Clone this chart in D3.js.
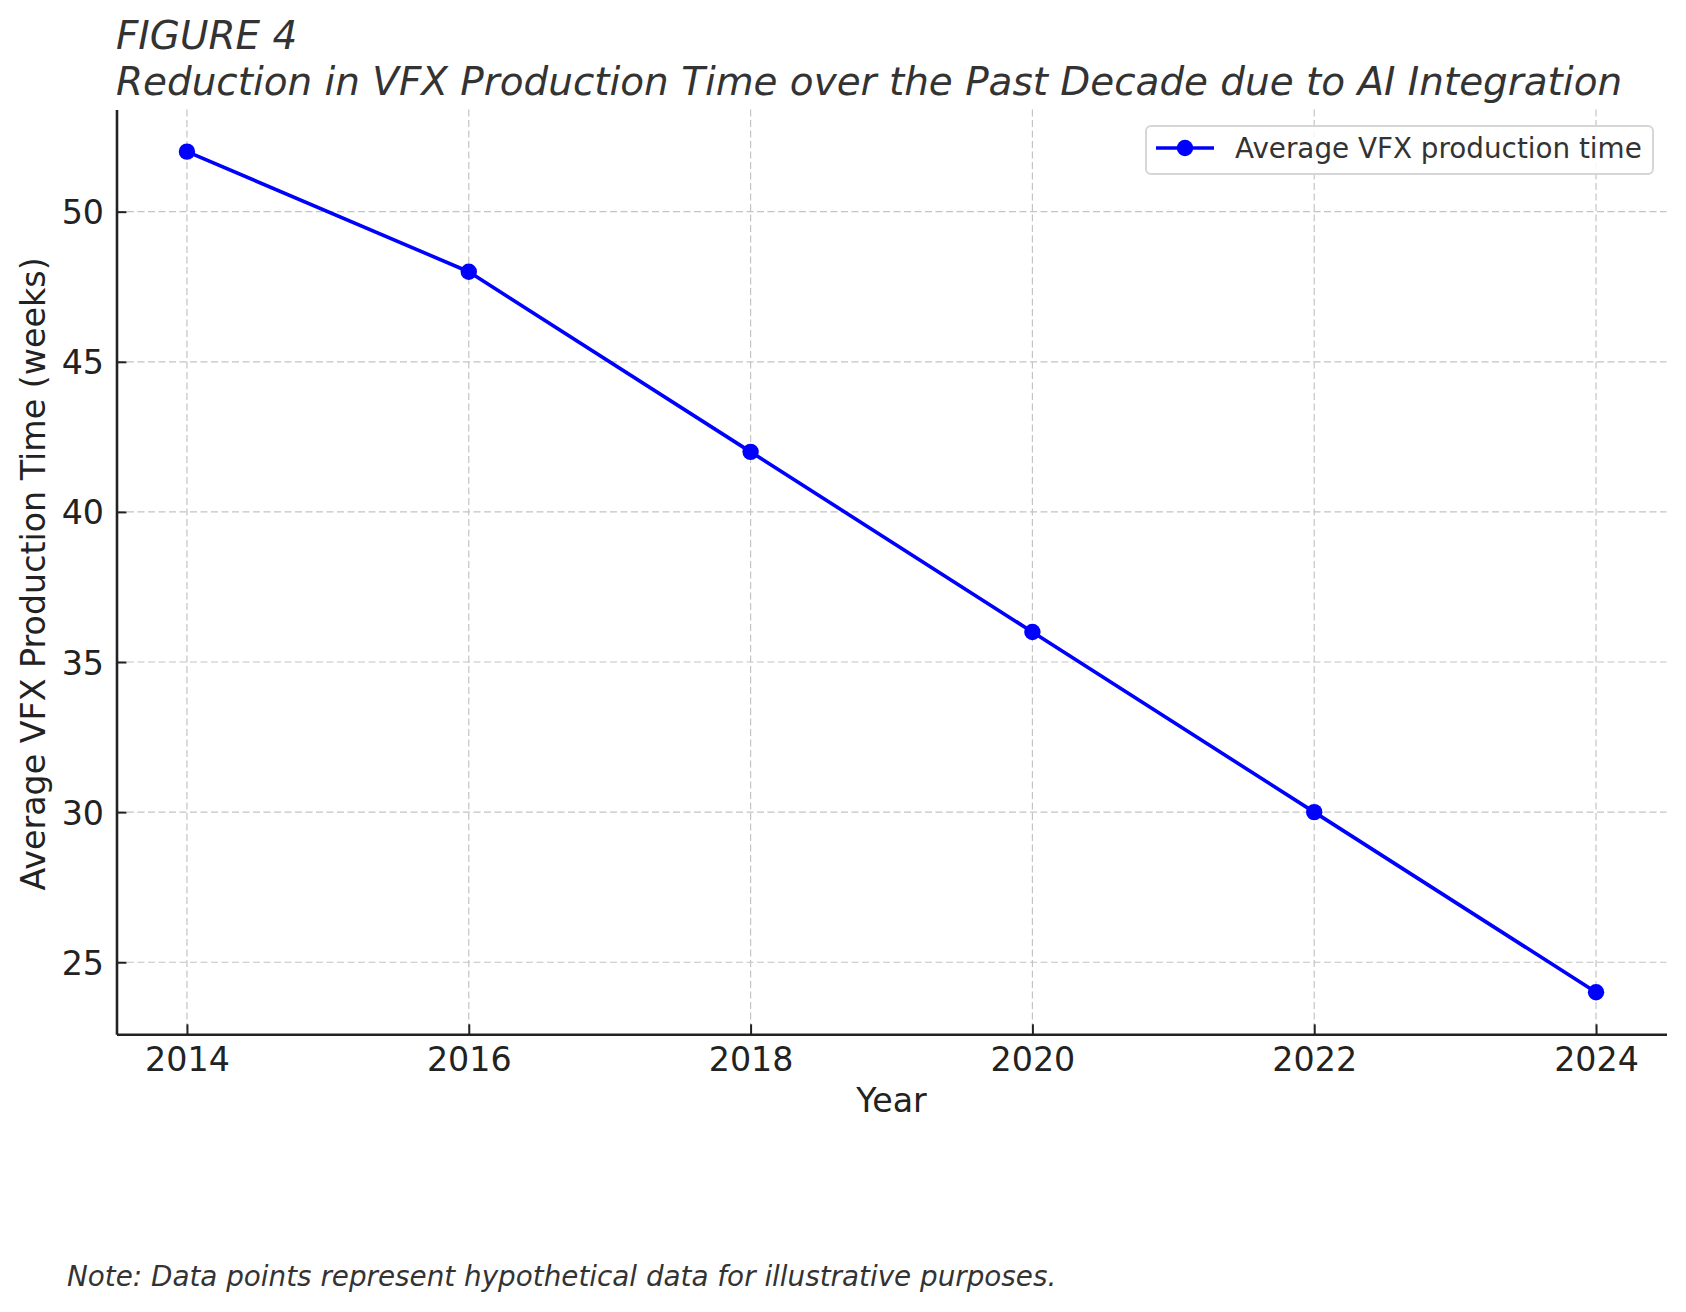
<!DOCTYPE html>
<html>
<head>
<meta charset="utf-8">
<script src="https://cdn.jsdelivr.net/npm/d3@7"></script>
<style>
  html, body { margin: 0; padding: 0; background: #ffffff; }
  svg { display: block; }
  text { font-family: "DejaVu Sans", sans-serif; }
</style>
</head>
<body>
<svg id="chart" width="1686" height="1312"></svg>
<script>
// ---- data ----
const years = [2014, 2016, 2018, 2020, 2022, 2024];
const productionWeeks = [52, 48, 42, 36, 30, 24];
const xTicks = [2014, 2016, 2018, 2020, 2022, 2024];
const yTicks = [25, 30, 35, 40, 45, 50];
const titleLines = ["FIGURE 4", "Reduction in VFX Production Time over the Past Decade due to AI Integration"];
const seriesName = "Average VFX production time";
const xLabel = "Year";
const yLabel = "Average VFX Production Time (weeks)";
const noteText = "Note: Data points represent hypothetical data for illustrative purposes.";

// ---- layout ----
const W = 1686, H = 1312;
const plot = { left: 116.5, right: 1666.5, top: 109.6, bottom: 1034.3 };

const svg = d3.select("#chart");
svg.append("rect").attr("width", W).attr("height", H).attr("fill", "#ffffff");

const x = d3.scaleLinear().domain([2013.5, 2024.5]).range([plot.left, plot.right]);
const y = d3.scaleLinear().domain([22.6, 53.4]).range([plot.bottom, plot.top]);

// grid
const grid = svg.append("g").attr("stroke", "#c4c4c4").attr("stroke-width", 1.2).attr("stroke-dasharray", "7,3.5");
grid.selectAll("line.v").data(xTicks).join("line")
  .attr("x1", d => x(d)).attr("x2", d => x(d))
  .attr("y1", plot.top).attr("y2", plot.bottom);
grid.selectAll("line.h").data(yTicks).join("line")
  .attr("x1", plot.left).attr("x2", plot.right)
  .attr("y1", d => y(d)).attr("y2", d => y(d));

// axes (inward ticks)
const xAxis = d3.axisBottom(x).tickValues(xTicks).tickFormat(d3.format("d")).tickSizeInner(-10).tickSizeOuter(0).tickPadding(22);
const gx = svg.append("g").attr("transform", `translate(0,${plot.bottom})`).call(xAxis);
const yAxis = d3.axisLeft(y).tickValues(yTicks).tickFormat(d3.format("d")).tickSizeInner(-10).tickSizeOuter(0).tickPadding(22);
const gy = svg.append("g").attr("transform", `translate(${plot.left},0)`).call(yAxis);

[gx, gy].forEach(g => {
  g.select(".domain").attr("stroke", "#222").attr("stroke-width", 2.6);
  g.selectAll(".tick line").attr("stroke", "#222").attr("stroke-width", 2);
  g.selectAll(".tick text").attr("fill", "#222").attr("font-size", 33.3)
    .attr("font-family", "DejaVu Sans");
});
gx.selectAll(".tick text").attr("y", 0).attr("dy", 0).attr("transform", "translate(0,37)");
gy.selectAll(".tick text").attr("x", -12.5).attr("dy", "0.36em");

// line + markers
const line = d3.line().x((d, i) => x(years[i])).y(d => y(d));
svg.append("path").datum(productionWeeks)
  .attr("d", line).attr("fill", "none").attr("stroke", "#0000ff").attr("stroke-width", 3.6)
  .attr("stroke-linejoin", "round");
svg.append("g").selectAll("circle").data(productionWeeks).join("circle")
  .attr("cx", (d, i) => x(years[i])).attr("cy", d => y(d)).attr("r", 8.2).attr("fill", "#0000ff");

// titles
svg.append("g").selectAll("text").data(titleLines).join("text")
  .attr("x", 116).attr("y", (d, i) => 49 + i * 45.5)
  .attr("font-size", 38.9).attr("font-style", "italic").attr("fill", "#333")
  .text(d => d);

// axis labels
svg.append("text").attr("x", (plot.left + plot.right) / 2).attr("y", 1112)
  .attr("text-anchor", "middle").attr("font-size", 33.3).attr("fill", "#222").text(xLabel);
svg.append("text").attr("transform", `translate(45,${(plot.top + plot.bottom) / 2 + 2}) rotate(-90)`)
  .attr("text-anchor", "middle").attr("font-size", 33.3).attr("fill", "#222").text(yLabel);

// legend
const lg = svg.append("g");
lg.append("rect").attr("x", 1146).attr("y", 126).attr("width", 507).attr("height", 48).attr("rx", 5)
  .attr("fill", "#ffffff").attr("fill-opacity", 0.85).attr("stroke", "#d6d6d6").attr("stroke-width", 2);
lg.append("line").attr("x1", 1156).attr("x2", 1214).attr("y1", 148).attr("y2", 148)
  .attr("stroke", "#0000ff").attr("stroke-width", 3.6);
lg.append("circle").attr("cx", 1185).attr("cy", 148).attr("r", 8.2).attr("fill", "#0000ff");
lg.append("text").attr("x", 1235).attr("y", 148).attr("dy", "0.36em")
  .attr("font-size", 27.8).attr("fill", "#333").text(seriesName);

// note
svg.append("text").attr("x", 67).attr("y", 1286).attr("font-size", 27.8).attr("font-style", "italic")
  .attr("fill", "#333").text(noteText);
</script>
</body>
</html>
